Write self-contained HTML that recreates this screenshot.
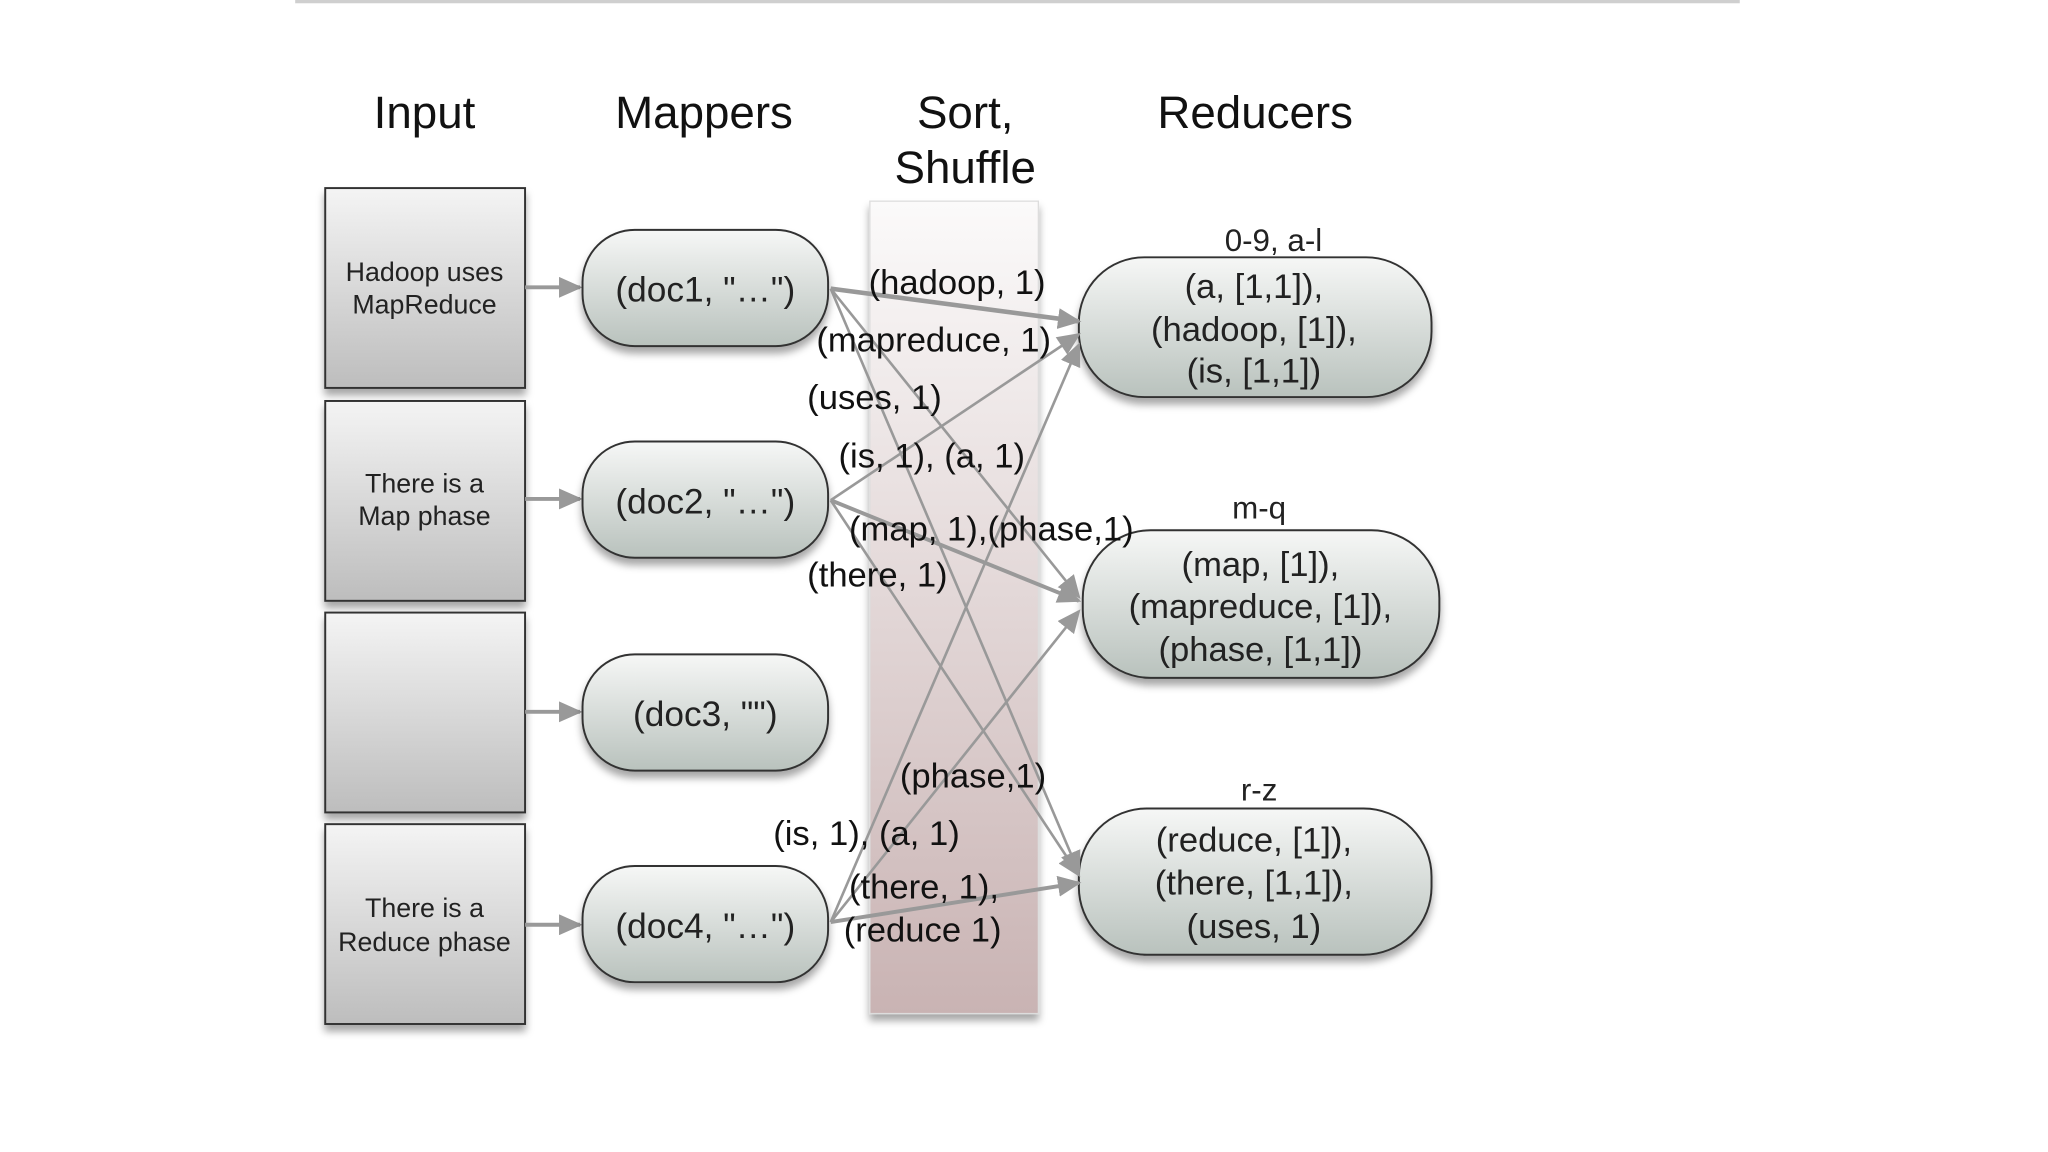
<!DOCTYPE html>
<html><head><meta charset="utf-8"><style>html,body{margin:0;padding:0;background:#fff;}svg{display:block}</style></head>
<body>
<svg width="2048" height="1152" viewBox="0 0 1568 882" xmlns="http://www.w3.org/2000/svg" font-family="Liberation Sans, sans-serif">
<defs>
<linearGradient id="gBox" x1="0" y1="0" x2="0" y2="1"><stop offset="0" stop-color="#f4f4f4"/><stop offset="1" stop-color="#bdbdbd"/></linearGradient>
<linearGradient id="gPill" x1="0" y1="0" x2="0" y2="1"><stop offset="0" stop-color="#f6f7f6"/><stop offset="1" stop-color="#b9c2bd"/></linearGradient>
<linearGradient id="gBand" x1="0" y1="0" x2="0" y2="1"><stop offset="0" stop-color="#fbfafa"/><stop offset="1" stop-color="#c9b3b3"/></linearGradient>
<filter id="sh" x="-10%" y="-10%" width="130%" height="140%"><feDropShadow dx="0" dy="5" stdDeviation="3" flood-color="#000" flood-opacity="0.35"/></filter>
<marker id="ahs" markerWidth="18" markerHeight="16" refX="16" refY="8" orient="auto" markerUnits="userSpaceOnUse" viewBox="0 0 18 16"><path d="M0,0 L18,8 L0,16 Z" fill="#999"/></marker>
</defs>
<rect x="226" y="0" width="1106" height="2.5" fill="#cfcfcf"/>
<g font-size="35" text-anchor="middle" fill="#111">
<text x="325" y="98">Input</text>
<text x="539" y="98">Mappers</text>
<text x="739" y="98">Sort,</text>
<text x="739" y="140">Shuffle</text>
<text x="961" y="98">Reducers</text>
</g>
<rect x="666" y="154" width="129" height="622" fill="url(#gBand)" stroke="#ddd" filter="url(#sh)"/>
<g stroke="#333" stroke-width="1.5" fill="url(#gBox)" filter="url(#sh)">
<rect x="249" y="144" width="153" height="153"/>
<rect x="249" y="307" width="153" height="153"/>
<rect x="249" y="469" width="153" height="153"/>
<rect x="249" y="631" width="153" height="153"/>
</g>
<g font-size="20.5" text-anchor="middle" fill="#222">
<text x="325" y="215">Hadoop uses</text><text x="325" y="240">MapReduce</text>
<text x="325" y="377">There is a</text><text x="325" y="402">Map phase</text>
<text x="325" y="702">There is a</text><text x="325" y="728">Reduce phase</text>
</g>
<g stroke="#999" stroke-width="3" marker-end="url(#ahs)">
<line x1="402" y1="220" x2="444" y2="220"/>
<line x1="402" y1="382" x2="444" y2="382"/>
<line x1="402" y1="545" x2="444" y2="545"/>
<line x1="402" y1="708" x2="444" y2="708"/>
</g>
<g stroke="#333" stroke-width="1.5" fill="url(#gPill)" filter="url(#sh)">
<rect x="446" y="176" width="188" height="89" rx="40"/>
<rect x="446" y="338" width="188" height="89" rx="40"/>
<rect x="446" y="501" width="188" height="89" rx="40"/>
<rect x="446" y="663" width="188" height="89" rx="40"/>
<rect x="826" y="197" width="270" height="107" rx="50"/>
<rect x="829" y="406" width="273" height="113" rx="52"/>
<rect x="826" y="619" width="270" height="112" rx="52"/>
</g>
<g font-size="27" text-anchor="middle" fill="#222">
<text x="540" y="231">(doc1, "…")</text>
<text x="540" y="393">(doc2, "…")</text>
<text x="540" y="556">(doc3, "")</text>
<text x="540" y="718">(doc4, "…")</text>
</g>
<g font-size="24" text-anchor="middle" fill="#222">
<text x="975" y="192">0-9, a-l</text>
<text x="964" y="397">m-q</text>
<text x="964" y="613">r-z</text>
</g>
<g font-size="26.5" text-anchor="middle" fill="#222">
<text x="960" y="228">(a, [1,1]),</text>
<text x="960" y="261">(hadoop, [1]),</text>
<text x="960" y="293">(is, [1,1])</text>
<text x="965" y="441">(map, [1]),</text>
<text x="965" y="473">(mapreduce, [1]),</text>
<text x="965" y="506">(phase, [1,1])</text>
<text x="960" y="652">(reduce, [1]),</text>
<text x="960" y="685">(there, [1,1]),</text>
<text x="960" y="718">(uses, 1)</text>
</g>
<g stroke="#999" stroke-width="2" fill="none">
<line x1="636" y1="221" x2="826" y2="246" stroke-width="3.5" marker-end="url(#ahs)"/>
<line x1="636" y1="221" x2="826" y2="457" marker-end="url(#ahs)"/>
<line x1="636" y1="221" x2="826" y2="668" marker-end="url(#ahs)"/>
<line x1="636" y1="383" x2="826" y2="256" marker-end="url(#ahs)"/>
<line x1="636" y1="383" x2="826" y2="460" stroke-width="3" marker-end="url(#ahs)"/>
<line x1="636" y1="383" x2="826" y2="670" marker-end="url(#ahs)"/>
<line x1="636" y1="706" x2="826" y2="264" marker-end="url(#ahs)"/>
<line x1="636" y1="706" x2="826" y2="468" marker-end="url(#ahs)"/>
<line x1="636" y1="706" x2="826" y2="676" stroke-width="3" marker-end="url(#ahs)"/>
</g>
<g font-size="26.5" fill="#111">
<text x="665" y="225">(hadoop, 1)</text>
<text x="625" y="269">(mapreduce, 1)</text>
<text x="618" y="313">(uses, 1)</text>
<text x="642" y="358">(is, 1), (a, 1)</text>
<text x="650" y="414">(map, 1),(phase,1)</text>
<text x="618" y="449">(there, 1)</text>
<text x="689" y="603">(phase,1)</text>
<text x="592" y="647">(is, 1), (a, 1)</text>
<text x="650" y="688">(there, 1),</text>
<text x="646" y="721">(reduce 1)</text>
</g>
</svg>
</body></html>
